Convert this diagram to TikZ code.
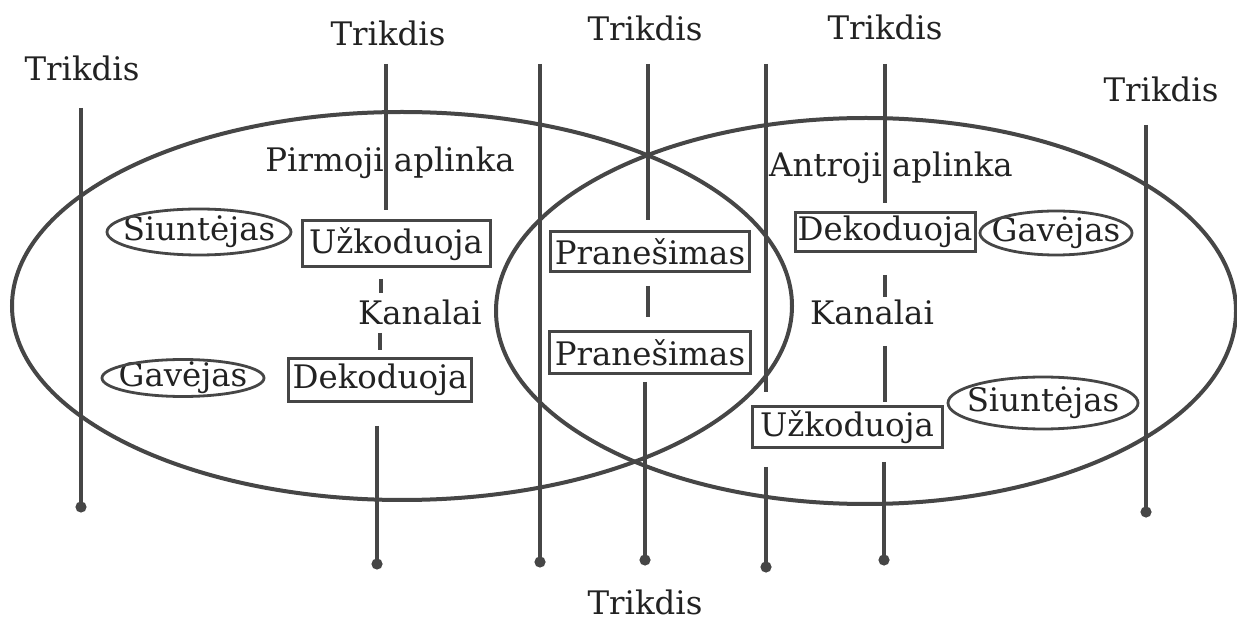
\documentclass[tikz,border=0pt]{standalone}
\usepackage{fontspec}
\setmainfont{DejaVu Serif}
\usetikzlibrary{positioning,shapes.geometric}
\definecolor{lncol}{HTML}{464646}
\definecolor{txtcol}{HTML}{222222}

\begin{document}
\begin{tikzpicture}[x=0.5pt,y=-0.5pt,
  font=\fontsize{16.2}{19}\selectfont,
  trik/.style={draw=lncol,line width=2.2pt},
  zona/.style={draw=lncol,line width=2pt},
  dez/.style={draw=lncol,line width=1.5pt,inner sep=0pt,text=txtcol},
  ovl/.style={draw=lncol,line width=1.4pt},
  zod/.style={text=txtcol,inner sep=0pt},
  taskas/.style={fill=lncol}]
\useasboundingbox[fill=white] (0,0) rectangle (1237,630);

% dvi aplinkos
\draw[zona] (402,306) ellipse [x radius=390, y radius=194];
\draw[zona] (866,311) ellipse [x radius=370, y radius=193];

% uzrasai
\node[zod] (trik1) at (82,68) {Trikdis};
\node[zod] (trik2) at (388,33) {Trikdis};
\node[zod] (trik3) at (645,28) {Trikdis};
\node[zod] (trik4) at (885,27) {Trikdis};
\node[zod] (trik5) at (1161,89) {Trikdis};
\node[zod] (trik6) at (645,602) {Trikdis};
\node[zod] (apl1) at (390,163) {Pirmoji aplinka};
\node[zod] (apl2) at (891,168) {Antroji aplinka};
\node[zod] (kan1) at (420,312) {Kanalai};
\node[zod] (kan2) at (872,312) {Kanalai};

% deziutes
\node[dez,minimum width=94pt,minimum height=23pt] (uzk1) at (396,244) {Užkoduoja};
\node[dez,minimum width=91.5pt,minimum height=21.5pt] (dek1) at (380,380) {Dekoduoja};
\node[dez,minimum width=90pt,minimum height=19.5pt] (dek2) at (885,232) {Dekoduoja};
\node[dez,minimum width=95pt,minimum height=20.5pt] (uzk2) at (847,427) {Užkoduoja};
\node[dez,minimum width=99.5pt,minimum height=20pt] (pran1) at (650,252) {Pranešimas};
\node[dez,minimum width=100.5pt,minimum height=21pt] (pran2) at (650,353) {Pranešimas};

% ovalai
\node[zod] (siunt1) at (199,232) {Siuntėjas};
\node[zod] (gav1) at (183,378) {Gavėjas};
\node[zod] (gav2) at (1056,233) {Gavėjas};
\node[zod] (siunt2) at (1043,403) {Siuntėjas};
\draw[ovl] (siunt1) ellipse [x radius=92, y radius=23];
\draw[ovl] (gav1) ellipse [x radius=81, y radius=18.5];
\draw[ovl] (gav2) ellipse [x radius=76, y radius=22];
\draw[ovl] (siunt2) ellipse [x radius=95, y radius=26];

% trikdziu linijos
\coordinate (l1a) at (81,108);  \coordinate (l1b) at (81,507);
\coordinate (l2a) at (386,64);  \coordinate (l2b) at (386,210);
\coordinate (l2c) at (381,279); \coordinate (l2d) at (381,293);
\coordinate (l2e) at (380,333); \coordinate (l2f) at (380,350);
\coordinate (l2g) at (377,426); \coordinate (l2h) at (377,564);
\coordinate (l3a) at (540,64);  \coordinate (l3b) at (540,562);
\coordinate (l4a) at (648,64);  \coordinate (l4b) at (648,220);
\coordinate (l4c) at (648,286); \coordinate (l4d) at (648,317);
\coordinate (l4e) at (645,382); \coordinate (l4f) at (645,560);
\coordinate (l5a) at (766,64);  \coordinate (l5b) at (766,392);
\coordinate (l5c) at (766,467); \coordinate (l5d) at (766,567);
\coordinate (l6a) at (885,64);  \coordinate (l6b) at (885,203);
\coordinate (l6c) at (885,275); \coordinate (l6d) at (885,297);
\coordinate (l6e) at (885,346); \coordinate (l6f) at (885,402);
\coordinate (l6g) at (884,462); \coordinate (l6h) at (884,560);
\coordinate (l7a) at (1146,125); \coordinate (l7b) at (1146,512);

\draw[trik] (l1a) -- (l1b);
\draw[trik] (l2a) -- (l2b);
\draw[trik] (l2c) -- (l2d);
\draw[trik] (l2e) -- (l2f);
\draw[trik] (l2g) -- (l2h);
\draw[trik] (l3a) -- (l3b);
\draw[trik] (l4a) -- (l4b);
\draw[trik] (l4c) -- (l4d);
\draw[trik] (l4e) -- (l4f);
\draw[trik] (l5a) -- (l5b);
\draw[trik] (l5c) -- (l5d);
\draw[trik] (l6a) -- (l6b);
\draw[trik] (l6c) -- (l6d);
\draw[trik] (l6e) -- (l6f);
\draw[trik] (l6g) -- (l6h);
\draw[trik] (l7a) -- (l7b);

\foreach \p in {l1b,l2h,l3b,l4f,l5d,l6h,l7b}
  \fill[taskas] (\p) circle (2.8pt);
\end{tikzpicture}
\end{document}
